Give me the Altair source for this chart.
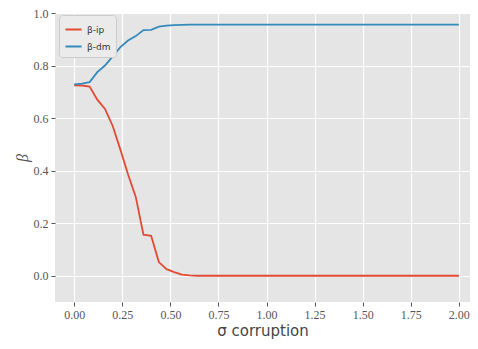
import altair as alt
import pandas as pd

x_vals = [0.00, 0.04, 0.08, 0.12, 0.16, 0.20, 0.24, 0.28, 0.32, 0.36,
          0.40, 0.44, 0.48, 0.52, 0.56, 0.60, 0.64, 0.68, 0.72, 0.76,
          0.80, 0.84, 0.88, 0.92, 0.96, 1.00, 1.04, 1.08, 1.12, 1.16,
          1.20, 1.24, 1.28, 1.32, 1.36, 1.40, 1.44, 1.48, 1.52, 1.56,
          1.60, 1.64, 1.68, 1.72, 1.76, 1.80, 1.84, 1.88, 1.92, 1.96,
          2.00]

beta_ip = [0.725, 0.724, 0.720, 0.670, 0.635, 0.570, 0.480, 0.385, 0.300, 0.156,
           0.152, 0.052, 0.025, 0.014, 0.004, 0.001, 0.0, 0.0, 0.0, 0.0,
           0.0, 0.0, 0.0, 0.0, 0.0, 0.0, 0.0, 0.0, 0.0, 0.0,
           0.0, 0.0, 0.0, 0.0, 0.0, 0.0, 0.0, 0.0, 0.0, 0.0,
           0.0, 0.0, 0.0, 0.0, 0.0, 0.0, 0.0, 0.0, 0.0, 0.0,
           0.0]

beta_dm = [0.728, 0.731, 0.737, 0.775, 0.800, 0.835, 0.870, 0.895, 0.912, 0.935,
           0.936, 0.948, 0.952, 0.954, 0.955, 0.956, 0.956, 0.956, 0.956, 0.956,
           0.956, 0.956, 0.956, 0.956, 0.956, 0.956, 0.956, 0.956, 0.956, 0.956,
           0.956, 0.956, 0.956, 0.956, 0.956, 0.956, 0.956, 0.956, 0.956, 0.956,
           0.956, 0.956, 0.956, 0.956, 0.956, 0.956, 0.956, 0.956, 0.956, 0.956,
           0.956]

series_names = ["β-ip", "β-dm"]
series_colors = ["#E24A33", "#348ABD"]

x_ticks = [0.0, 0.25, 0.5, 0.75, 1.0, 1.25, 1.5, 1.75, 2.0]
y_ticks = [0.0, 0.2, 0.4, 0.6, 0.8, 1.0]

rows = []
for name, vals in zip(series_names, [beta_ip, beta_dm]):
    for xv, yv in zip(x_vals, vals):
        rows.append({"sigma": xv, "beta": yv, "series": name})
df = pd.DataFrame(rows)

chart = alt.Chart(df).mark_line(strokeWidth=1.8, clip=True).encode(
    x=alt.X("sigma:Q",
            scale=alt.Scale(domain=[-0.1, 2.058], nice=False, zero=False),
            axis=alt.Axis(values=x_ticks, format=".2f", title="σ corruption",
                          titleFont="DejaVu Sans", titleFontSize=15,
                          titleFontWeight="normal", titleColor="#444444",
                          titlePadding=3, labelPadding=3)),
    y=alt.Y("beta:Q",
            scale=alt.Scale(domain=[-0.1, 1.0], nice=False, zero=False),
            axis=alt.Axis(values=y_ticks, format=".1f", title="β",
                          titleFont="Liberation Serif", titleFontSize=16,
                          titleFontStyle="italic", titleFontWeight="normal",
                          titleColor="#555555", titlePadding=3, labelPadding=3)),
    color=alt.Color("series:N",
                    scale=alt.Scale(domain=series_names, range=series_colors),
                    sort=series_names,
                    legend=alt.Legend(title=None, orient="none", legendX=4, legendY=2,
                                      symbolType="stroke", symbolStrokeWidth=2,
                                      symbolSize=260, labelFont="DejaVu Sans",
                                      labelFontSize=9, labelColor="#333333",
                                      fillColor="#ebebeb", strokeColor="#cccccc",
                                      cornerRadius=3, padding=5, rowPadding=2)),
).properties(
    width=415, height=289,
    autosize=alt.AutoSizeParams(type="none"),
    padding={"left": 47, "top": 5, "right": 0, "bottom": 41},
).configure_view(
    fill="#E5E5E5", stroke=None
).configure_axis(
    grid=True, gridColor="#FFFFFF", gridWidth=1.2,
    domain=False, tickColor="#555555", tickSize=4, tickWidth=1,
    labelFont="Liberation Serif", labelFontSize=12, labelColor="#555555"
)

chart.save("out.html", embed_options={"renderer": "svg", "actions": False})
